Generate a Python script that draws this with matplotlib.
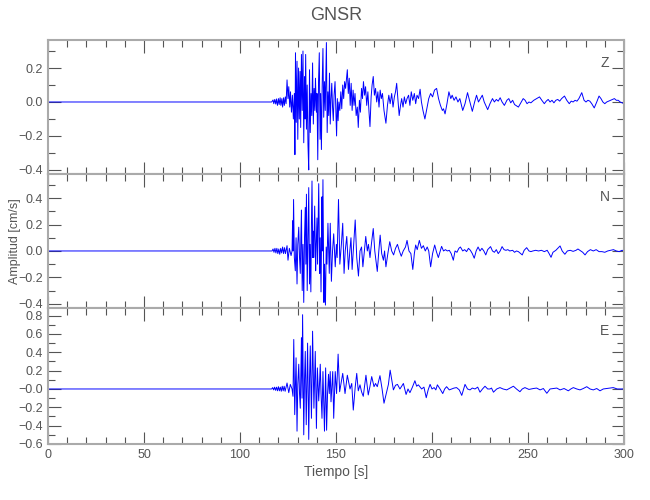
import matplotlib
matplotlib.use("Agg")
import matplotlib.pyplot as plt
from matplotlib.ticker import MultipleLocator, FixedLocator, FixedFormatter

plt.rcParams['font.family'] = ['Liberation Sans Narrow', 'Liberation Sans', 'DejaVu Sans']

title = "GNSR"
xlabel = "Tiempo [s]"
ylabel = "Amplitud [cm/s]"
components = ["Z", "N", "E"]

# ---- Z component (time [s], amplitude [cm/s]) ----
z_t = [0, 116.5, 117.2, 117.6, 118.1, 118.6, 119.0, 119.5, 120.0, 120.4, 120.9, 121.3, 121.8, 122.2,
       122.7, 123.1, 123.6, 124.0, 124.5, 125.0, 125.4, 125.9, 126.3, 126.8, 127.3, 127.8, 128.3,
       128.6, 128.9, 129.3, 129.7, 130.1, 130.5, 130.9, 131.3, 131.6, 132.0, 132.4, 132.8, 133.2,
       133.6, 133.9, 134.2, 134.6, 135.0, 135.4, 135.8, 136.2, 136.6, 137.0, 137.4, 137.8, 138.2,
       138.6, 139.0, 139.3, 139.8, 140.1, 140.5, 140.9, 141.3, 141.7, 142.0, 142.4, 142.8, 143.2,
       143.6, 144.0, 144.4, 145.0, 145.4, 145.8, 146.2, 146.6, 147.0, 147.4, 147.8, 148.2, 148.6,
       149.0, 149.5, 149.9, 150.3, 150.7, 151.1, 151.5, 152.0, 152.5, 153.0, 153.5, 154.0, 154.5,
       155.0, 155.9, 156.4, 156.9, 157.4, 157.9, 158.4, 158.9, 159.4, 159.9, 160.5, 161.1, 161.6,
       162.2, 162.7, 163.3, 163.8, 164.3, 164.9, 165.4, 166.0, 166.6, 167.2, 167.7, 168.3, 168.8,
       169.4, 170.0, 170.6, 171.2, 171.8, 172.4, 173.0, 173.6, 174.2, 175.0, 176.0, 176.8, 177.5,
       178.2, 179.0, 179.7, 180.4, 181.0, 181.6, 182.3, 182.9, 183.6, 184.2, 184.9, 185.6, 186.3,
       187.0, 187.8, 188.5, 189.2, 190.0, 190.8, 191.5, 192.2, 193.0, 193.8, 194.5, 195.3, 196.3,
       197.3, 198.3, 199.3, 200.3, 201.3, 202.4, 203.4, 204.4, 205.4, 206.0, 206.8, 207.8, 208.8,
       209.8, 210.5, 211.5, 212.5, 213.5, 214.5, 216.0, 217.2, 218.5, 219.5, 221.0, 222.2, 223.2,
       224.2, 225.2, 226.2, 227.2, 229.0, 230.2, 231.5, 232.5, 233.5, 234.5, 235.5, 236.5, 237.7,
       239.0, 240.0, 241.0, 242.0, 243.0, 245.0, 246.5, 247.5, 248.5, 249.5, 250.5, 251.5, 253.0,
       254.5, 256.0, 257.2, 258.5, 259.5, 260.5, 261.5, 262.5, 263.5, 264.5, 265.5, 266.5, 267.5,
       269.0, 270.2, 271.5, 272.5, 273.5, 274.5, 275.5, 276.5, 278.0, 279.2, 280.2, 281.2, 282.2,
       283.2, 284.5, 285.8, 287.0, 288.0, 289.0, 290.0, 291.0, 292.0, 293.0, 294.0, 295.0, 296.0,
       297.0, 298.0, 299.0, 300.0]
z_v = [0.0, 0.0, 0.012, -0.01, 0.015, -0.012, 0.018, -0.02, 0.02, -0.015, 0.025, -0.02, 0.02, -0.03,
       0.025, -0.02, 0.03, -0.01, 0.13, 0.02, 0.09, -0.03, 0.06, -0.06, 0.04, -0.10, 0.05,
       -0.31, 0.29, -0.12, 0.24, -0.22, 0.20, -0.10, 0.18, -0.15, 0.28, -0.05, 0.30, -0.24,
       0.15, -0.10, 0.28, -0.16, 0.10, -0.25, -0.40, 0.19, -0.18, 0.05, -0.08, 0.23, -0.13,
       0.08, -0.05, 0.14, -0.06, 0.05, -0.34, 0.12, 0.29, -0.22, 0.05, -0.28, 0.10, 0.315,
       -0.09, 0.12, -0.05, 0.35, -0.18, 0.06, -0.08, 0.17, -0.13, 0.02, 0.11, -0.03, -0.11,
       0.04, 0.12, -0.03, -0.20, 0.02, -0.11, 0.0, -0.05, 0.06, -0.04, 0.10, 0.02, 0.12,
       0.08, 0.19, 0.05, 0.14, -0.02, 0.11, -0.05, 0.07, -0.02, 0.05, -0.08, -0.03, -0.15,
       0.01, -0.06, 0.08, 0.02, 0.12, 0.04, 0.09, -0.02, 0.06, -0.06, -0.145, 0.03, 0.10,
       0.15, 0.04, 0.08, 0.0, 0.06, -0.03, 0.07, 0.02, 0.05, -0.05, -0.125, -0.02, 0.04,
       -0.01, 0.05, -0.03, 0.03, 0.06, 0.11, 0.01, -0.08, -0.02, 0.02, -0.03, 0.03, -0.01,
       0.02, 0.04, -0.02, 0.06, 0.01, 0.05, -0.01, 0.04, 0.02, 0.075, 0.0, -0.05, -0.10,
       -0.04, 0.02, 0.05, 0.03, 0.07, 0.08, 0.02, -0.02, -0.05, -0.04, -0.07, -0.01, 0.06,
       0.02, 0.04, 0.01, 0.03, 0.0, 0.02, -0.05, -0.01, 0.055, 0.01, -0.055, 0.0, 0.04,
       0.0, 0.02, 0.04, 0.0, -0.045, -0.01, 0.02, 0.0, 0.015, 0.005, 0.025, 0.0, -0.02,
       0.01, 0.02, -0.005, 0.01, -0.015, -0.03, 0.0, 0.02, 0.01, -0.01, 0.0, -0.005, 0.01,
       0.02, 0.03, 0.01, -0.01, 0.005, 0.015, 0.0, 0.01, -0.005, 0.01, 0.015, 0.005, 0.02,
       0.035, 0.01, -0.01, 0.005, 0.0, 0.01, 0.005, 0.02, 0.055, 0.01, 0.0, 0.01, 0.005,
       -0.01, -0.035, 0.0, 0.035, 0.02, 0.0, -0.01, 0.0, 0.005, 0.01, 0.015, 0.02, 0.01,
       0.01, 0.0, -0.005, -0.01]

# ---- N component ----
n_t = [0, 116.7, 117.2, 117.7, 118.2, 118.7, 119.2, 119.7, 120.2, 120.7, 121.2, 121.7, 122.2, 122.7,
       123.2, 123.7, 124.5, 125.0, 125.7, 126.2, 126.6, 127.1, 127.4, 127.65, 127.9, 128.3, 128.8,
       129.2, 129.7, 130.1, 130.6, 131.0, 131.4, 131.7, 132.0, 132.4, 132.8, 133.2, 133.6, 134.0,
       134.3, 134.6, 135.0, 135.4, 135.8, 136.2, 136.5, 136.9, 137.2, 137.5, 137.9, 138.2, 138.4,
       138.9, 139.4, 139.7, 140.1, 140.4, 141.0, 141.5, 141.8, 142.2, 142.7, 142.9, 143.2, 143.7,
       144.0, 144.5, 144.9, 145.3, 145.8, 146.5, 147.0, 147.6, 148.2, 148.8, 149.6, 150.2, 150.6,
       151.3, 152.0, 152.8, 153.5, 154.2, 154.8, 155.6, 156.5, 157.2, 157.8, 158.4, 159.2, 160.0,
       160.8, 161.7, 162.5, 163.3, 164.0, 164.8, 165.5, 166.3, 166.9, 167.7, 168.5, 169.4, 170.2,
       171.5, 172.3, 173.0, 173.8, 174.7, 175.3, 176.0, 177.0, 178.0, 179.0, 180.0, 181.0, 182.0,
       183.0, 184.0, 185.0, 186.2, 187.0, 188.0, 189.0, 190.0, 190.8, 191.5, 192.3, 193.4, 194.5,
       195.5, 196.5, 197.5, 198.3, 199.3, 200.3, 201.4, 202.4, 203.3, 204.3, 205.0, 206.0, 207.0,
       208.0, 209.0, 210.0, 211.1, 212.0, 213.0, 214.0, 214.8, 216.0, 217.0, 218.0, 219.0, 220.0,
       221.0, 222.0, 223.0, 224.0, 225.0, 226.0, 227.0, 228.0, 229.0, 230.5, 231.5, 232.5, 233.5,
       234.5, 235.5, 236.5, 237.5, 238.5, 239.5, 240.5, 242.0, 243.0, 244.0, 245.0, 247.0, 248.0,
       249.3, 250.5, 251.5, 252.5, 254.0, 255.5, 257.0, 258.5, 260.0, 261.0, 262.0, 263.0, 264.5,
       265.5, 266.7, 267.8, 269.2, 270.5, 272.0, 273.5, 275.0, 276.0, 277.5, 278.5, 279.7, 281.0,
       282.5, 284.0, 285.5, 287.0, 288.5, 290.0, 291.5, 293.0, 294.5, 296.0, 297.5, 299.0, 300.0]
n_v = [0.0, 0.0, 0.015, -0.01, 0.02, -0.015, 0.02, -0.02, 0.015, -0.025, 0.02, -0.015, 0.03, -0.02,
       0.025, -0.02, 0.04, -0.07, 0.02, -0.01, -0.035, 0.0, 0.23, 0.0, 0.39, -0.05, -0.15,
       0.10, -0.25, 0.05, 0.18, -0.05, -0.17, 0.10, 0.31, -0.30, 0.05, -0.39, 0.10, 0.33,
       -0.10, 0.43, -0.30, 0.10, 0.48, -0.25, 0.05, -0.31, 0.20, 0.53, -0.05, 0.15, -0.05,
       0.34, -0.15, 0.05, 0.25, -0.10, 0.51, -0.17, 0.10, -0.31, 0.41, 0.0, 0.54, -0.39,
       -0.10, -0.41, 0.03, -0.10, 0.21, -0.17, 0.21, -0.23, 0.0, 0.13, -0.12, 0.05, -0.05,
       0.39, -0.10, 0.05, 0.21, -0.17, 0.0, 0.11, -0.14, 0.0, 0.10, -0.14, 0.05, 0.235,
       -0.05, -0.19, 0.0, 0.03, -0.12, 0.0, 0.11, 0.0, 0.05, -0.05, 0.06, 0.17, 0.0,
       -0.155, 0.0, 0.12, -0.02, -0.07, 0.0, -0.12, -0.02, 0.07, 0.0, -0.03, 0.02, 0.05,
       0.0, -0.04, 0.0, 0.03, 0.08, 0.0, -0.02, -0.14, -0.02, 0.045, 0.01, 0.08, 0.02,
       0.04, 0.0, 0.03, 0.0, -0.12, -0.02, 0.045, -0.01, -0.05, 0.0, 0.035, 0.0, 0.01,
       0.0, 0.005, -0.02, -0.07, 0.0, -0.01, 0.02, 0.03, 0.0, 0.01, -0.005, 0.02, 0.005,
       -0.02, -0.055, 0.0, 0.03, 0.0, 0.02, 0.0, -0.03, 0.01, 0.033, 0.0, -0.01, 0.01,
       -0.02, 0.0, 0.033, 0.01, 0.005, 0.01, 0.0, 0.005, -0.01, 0.0, -0.005, -0.03, 0.005,
       0.025, 0.0, -0.005, 0.0, 0.005, 0.0, 0.005, -0.005, 0.005, -0.02, -0.048, -0.01, 0.005,
       0.02, 0.038, 0.0, -0.025, 0.0, 0.005, -0.003, 0.005, 0.015, 0.0, -0.01, -0.03, -0.005,
       0.01, 0.0, 0.01, -0.005, -0.005, -0.01, 0.0, 0.005, 0.01, 0.0, -0.005, 0.005, 0.002]

# ---- E component ----
e_t = [0, 116.5, 117.0, 117.5, 118.0, 118.5, 119.0, 119.5, 120.0, 120.5, 121.0, 121.5, 122.0, 122.5,
       123.0, 123.5, 124.0, 124.5, 125.4, 126.2, 127.1, 127.6, 128.0, 128.5, 128.9, 129.2, 129.7,
       130.1, 130.6, 131.0, 131.4, 132.0, 132.3, 132.6, 133.2, 133.6, 134.0, 134.5, 135.2, 135.8,
       136.2, 136.6, 137.2, 137.5, 137.8, 138.5, 138.8, 139.2, 139.8, 140.3, 141.0, 141.4, 141.8,
       142.2, 142.7, 143.2, 144.0, 144.6, 145.1, 145.6, 146.1, 146.5, 147.0, 147.4, 147.9, 148.3,
       148.8, 149.6, 150.3, 151.1, 151.9, 152.6, 153.5, 154.7, 155.9, 157.3, 158.2, 159.0, 160.0,
       160.8, 161.6, 162.5, 163.3, 164.2, 165.6, 166.8, 167.7, 168.6, 169.8, 170.6, 171.5, 172.9,
       174.0, 175.0, 176.4, 177.3, 178.2, 179.9, 181.0, 182.0, 183.3, 184.2, 185.1, 186.5, 187.5,
       188.5, 189.8, 191.1, 192.0, 192.9, 194.6, 195.8, 197.0, 198.0, 199.0, 200.0, 201.1, 202.0,
       202.8, 204.2, 205.6, 206.6, 207.6, 209.0, 210.2, 211.5, 212.8, 214.2, 215.5, 217.2, 218.5,
       219.8, 221.0, 222.4, 223.8, 225.0, 226.3, 227.6, 229.0, 230.2, 231.0, 232.0, 233.7, 235.4,
       237.0, 238.9, 240.6, 242.4, 244.0, 245.8, 247.0, 248.4, 250.5, 252.8, 254.5, 256.3, 258.0,
       259.8, 261.5, 263.2, 265.0, 266.7, 268.8, 271.0, 272.3, 273.6, 275.4, 277.1, 278.8, 280.6,
       282.3, 284.0, 285.8, 287.5, 289.2, 291.0, 292.7, 294.4, 296.5, 298.8, 300.0]
e_v = [0.0, 0.0, 0.015, -0.01, 0.02, -0.015, 0.02, -0.02, 0.025, -0.02, 0.02, -0.025, 0.03, -0.02,
       0.03, -0.025, 0.02, 0.065, -0.04, 0.05, 0.0, -0.08, 0.54, -0.28, 0.10, 0.34, -0.46,
       0.05, 0.27, -0.05, -0.21, 0.56, -0.10, 0.81, -0.50, 0.10, 0.41, -0.39, 0.50, -0.55,
       0.10, 0.47, -0.32, 0.10, 0.63, -0.21, 0.05, 0.41, -0.43, 0.23, -0.13, 0.05, 0.27,
       -0.05, -0.32, 0.19, -0.46, 0.23, -0.45, -0.05, 0.16, -0.05, 0.19, -0.14, 0.05, 0.19,
       -0.32, 0.19, -0.05, 0.38, -0.03, 0.06, 0.17, -0.05, 0.15, 0.0, 0.06, -0.23, 0.02,
       0.17, -0.02, 0.045, -0.03, -0.08, 0.15, -0.065, 0.03, 0.135, 0.025, 0.06, 0.025, 0.145,
       0.0, -0.155, -0.03, 0.05, 0.205, -0.01, 0.04, 0.05, 0.0, 0.03, 0.06, -0.06, 0.0,
       -0.04, 0.02, 0.09, 0.03, 0.045, 0.0, 0.02, -0.095, -0.01, 0.05, 0.0, 0.015, -0.01,
       0.045, 0.0, -0.05, 0.0, 0.025, -0.01, 0.0, 0.01, 0.015, -0.01, -0.07, 0.05, 0.0,
       -0.01, 0.01, 0.0, 0.02, -0.035, 0.0, 0.03, 0.0, 0.0, 0.01, -0.035, 0.0, 0.015,
       0.0, -0.01, 0.01, 0.03, 0.0, -0.03, 0.0, 0.015, -0.005, 0.005, 0.01, -0.01, 0.005,
       -0.047, 0.0, 0.005, 0.01, -0.01, 0.005, -0.02, 0.0, 0.015, 0.0, -0.01, 0.005, 0.025,
       0.0, -0.01, 0.005, -0.02, 0.0, 0.005, 0.01, 0.015, 0.0, 0.0, 0.002]

traces = [(z_t, z_v), (n_t, n_v), (e_t, e_v)]

ylims = [(-0.424, 0.365), (-0.432, 0.583), (-0.60, 0.883)]
yticks = [[-0.4, -0.2, 0.0, 0.2],
          [-0.4, -0.2, 0.0, 0.2, 0.4],
          [-0.6, -0.4, -0.2, 0.0, 0.2, 0.4, 0.6, 0.8]]
yticklabels = [["\u22120.4", "\u22120.2", "0.0", "0.2"],
               ["\u22120.4", "\u22120.2", "0.0", "0.2", "0.4"],
               ["\u22120.6", "\u22120.4", "\u22120.2", "\u22120.0", "0.2", "0.4", "0.6", "0.8"]]
xticks = [0, 50, 100, 150, 200, 250, 300]

txt = '#555555'
spine_c = '#aaaaaa'

fig = plt.figure(figsize=(6.5, 5.0), dpi=100)
left, right = 48 / 650, 624 / 650
bounds_px = [(40, 174), (174, 308), (308, 444)]
axes = []
for i, (top_px, bot_px) in enumerate(bounds_px):
    ax = fig.add_axes([left, 1 - bot_px / 500, right - left, (bot_px - top_px) / 500])
    t, v = traces[i]
    ax.plot(t, v, color='#0000ff', lw=0.7)
    ax.set_xlim(0, 300)
    ax.set_ylim(*ylims[i])
    ax.xaxis.set_major_locator(FixedLocator(xticks))
    ax.xaxis.set_minor_locator(MultipleLocator(10))
    ax.yaxis.set_major_locator(FixedLocator(yticks[i]))
    ax.yaxis.set_major_formatter(FixedFormatter(yticklabels[i]))
    ax.yaxis.set_minor_locator(MultipleLocator(0.1))
    ax.tick_params(which='both', direction='in', top=True, right=True, color='#555555',
                   labelcolor=txt, labelsize=9, width=0.8)
    ax.tick_params(which='major', length=9)
    ax.tick_params(which='minor', length=5)
    for s in ax.spines.values():
        s.set_color(spine_c)
        s.set_linewidth(1.5)
    if i < 2:
        ax.tick_params(labelbottom=False)
    ax.text(0.967, 0.83, components[i], transform=ax.transAxes, ha='center', va='center',
            fontsize=10, color=txt)
    axes.append(ax)

axes[2].set_xticklabels([str(x) for x in xticks])
axes[2].set_xlabel(xlabel, fontsize=10, color=txt, labelpad=3)
axes[1].set_ylabel(ylabel, fontsize=9, color=txt)
axes[1].yaxis.set_label_coords(-(48 - 21) / 576, 0.5)
fig.text((48 + 624) / 2 / 650, 1 - 15 / 500, title, ha='center', va='center',
         fontsize=13, color=txt)

fig.savefig("out.png", dpi=100)
